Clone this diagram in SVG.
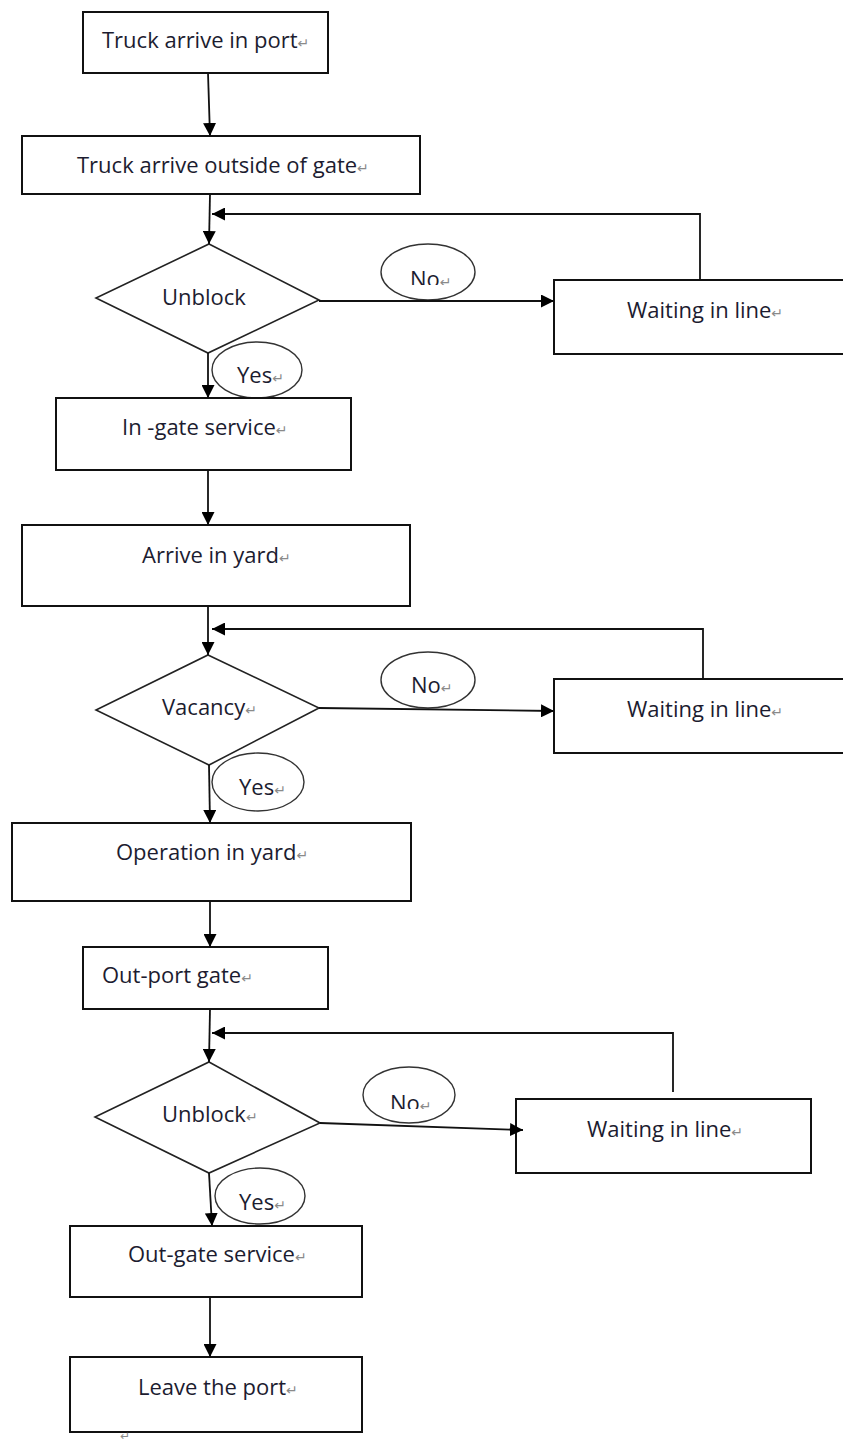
<svg xmlns="http://www.w3.org/2000/svg" width="843" height="1443" viewBox="0 0 843 1443">
<style>
.box{fill:#fff;stroke:#111;stroke-width:2}
.dia{fill:#fff;stroke:#222;stroke-width:1.6}
.ell{fill:#fff;stroke:#333;stroke-width:1.4}
.t{font-family:"Open Sans","DejaVu Sans",sans-serif;font-size:22px;fill:#1c1c30}
.r{font-family:"DejaVu Sans",sans-serif;font-size:14px;fill:#8a8a8a}
.c{fill:none;stroke:#111;stroke-width:1.8}
</style>
<defs>
<marker id="ah" markerUnits="userSpaceOnUse" markerWidth="13" markerHeight="13" viewBox="0 0 12 12" refX="12" refY="6" orient="auto">
<path d="M0,0 L12,6 L0,12 z" fill="#000"/>
</marker>
<clipPath id="cn1"><rect x="380" y="240" width="100" height="45"/></clipPath>
<clipPath id="cn3"><rect x="360" y="1064" width="100" height="45"/></clipPath>
</defs>
<g id="n1"><rect class="box" x="83" y="12" width="245" height="61"/><text class="t" x="102" y="48">Truck arrive in port<tspan class="r">↵</tspan></text></g>
<g id="n2"><rect class="box" x="22" y="136" width="398" height="58"/><text class="t" x="77" y="173">Truck arrive outside of gate<tspan class="r">↵</tspan></text></g>
<g id="d1"><polygon class="dia" points="209,244 319,300 208,353 96,298"/><text class="t" x="162" y="305">Unblock</text></g>
<g id="no1"><ellipse class="ell" cx="428" cy="272" rx="47" ry="28"/><text class="t" x="410" y="287" clip-path="url(#cn1)">No<tspan class="r">↵</tspan></text></g>
<g id="w1"><rect class="box" x="554" y="280" width="300" height="74"/><text class="t" x="627" y="318">Waiting in line<tspan class="r">↵</tspan></text></g>
<g id="yes1"><ellipse class="ell" cx="257" cy="370" rx="45" ry="28"/><text class="t" x="237" y="383">Yes<tspan class="r">↵</tspan></text></g>
<g id="n3"><rect class="box" x="56" y="398" width="295" height="72"/><text class="t" x="122" y="435">In -gate service<tspan class="r">↵</tspan></text></g>
<g id="n4"><rect class="box" x="22" y="525" width="388" height="81"/><text class="t" x="142" y="563">Arrive in yard<tspan class="r">↵</tspan></text></g>
<g id="d2"><polygon class="dia" points="208,655 319,708 209,765 96,710"/><text class="t" x="162" y="715">Vacancy<tspan class="r">↵</tspan></text></g>
<g id="no2"><ellipse class="ell" cx="428" cy="680" rx="47" ry="28"/><text class="t" x="411" y="693">No<tspan class="r">↵</tspan></text></g>
<g id="w2"><rect class="box" x="554" y="679" width="300" height="74"/><text class="t" x="627" y="717">Waiting in line<tspan class="r">↵</tspan></text></g>
<g id="yes2"><ellipse class="ell" cx="258" cy="782" rx="46" ry="29"/><text class="t" x="239" y="795">Yes<tspan class="r">↵</tspan></text></g>
<g id="n5"><rect class="box" x="12" y="823" width="399" height="78"/><text class="t" x="116" y="860">Operation in yard<tspan class="r">↵</tspan></text></g>
<g id="n6"><rect class="box" x="83" y="947" width="245" height="62"/><text class="t" x="102" y="983">Out-port gate<tspan class="r">↵</tspan></text></g>
<g id="d3"><polygon class="dia" points="209,1062 320,1123 209,1173 95,1117"/><text class="t" x="162" y="1122">Unblock<tspan class="r">↵</tspan></text></g>
<g id="no3"><ellipse class="ell" cx="409" cy="1095" rx="46" ry="28"/><text class="t" x="390" y="1111" clip-path="url(#cn3)">No<tspan class="r">↵</tspan></text></g>
<g id="w3"><rect class="box" x="516" y="1099" width="295" height="74"/><text class="t" x="587" y="1137">Waiting in line<tspan class="r">↵</tspan></text></g>
<g id="yes3"><ellipse class="ell" cx="260" cy="1196" rx="45" ry="28"/><text class="t" x="239" y="1210">Yes<tspan class="r">↵</tspan></text></g>
<g id="n7"><rect class="box" x="70" y="1226" width="292" height="71"/><text class="t" x="128" y="1262">Out-gate service<tspan class="r">↵</tspan></text></g>
<g id="n8"><rect class="box" x="70" y="1357" width="292" height="75"/><text class="t" x="138" y="1395">Leave the port<tspan class="r">↵</tspan></text></g>
<g id="mark"><text class="r" x="120" y="1440" style="font-size:12px">↵</text></g>
<g id="connectors">
<line class="c" x1="208" y1="73" x2="210" y2="136" marker-end="url(#ah)"/>
<line class="c" x1="210" y1="194" x2="209" y2="244" marker-end="url(#ah)"/>
<polyline class="c" points="700,280 700,214 212,214" marker-end="url(#ah)"/>
<line class="c" x1="319" y1="301" x2="554" y2="301" marker-end="url(#ah)"/>
<line class="c" x1="208" y1="353" x2="208" y2="398" marker-end="url(#ah)"/>
<line class="c" x1="208" y1="470" x2="208" y2="525" marker-end="url(#ah)"/>
<line class="c" x1="208" y1="606" x2="208" y2="655" marker-end="url(#ah)"/>
<polyline class="c" points="703,679 703,629 212,629" marker-end="url(#ah)"/>
<line class="c" x1="319" y1="708" x2="554" y2="711" marker-end="url(#ah)"/>
<line class="c" x1="209" y1="765" x2="210" y2="823" marker-end="url(#ah)"/>
<line class="c" x1="210" y1="901" x2="210" y2="947" marker-end="url(#ah)"/>
<line class="c" x1="210" y1="1009" x2="209" y2="1062" marker-end="url(#ah)"/>
<polyline class="c" points="673,1092 673,1033 212,1033" marker-end="url(#ah)"/>
<line class="c" x1="320" y1="1123" x2="523" y2="1130" marker-end="url(#ah)"/>
<line class="c" x1="209" y1="1173" x2="212" y2="1226" marker-end="url(#ah)"/>
<line class="c" x1="210" y1="1297" x2="210" y2="1357" marker-end="url(#ah)"/>
</g>
</svg>
